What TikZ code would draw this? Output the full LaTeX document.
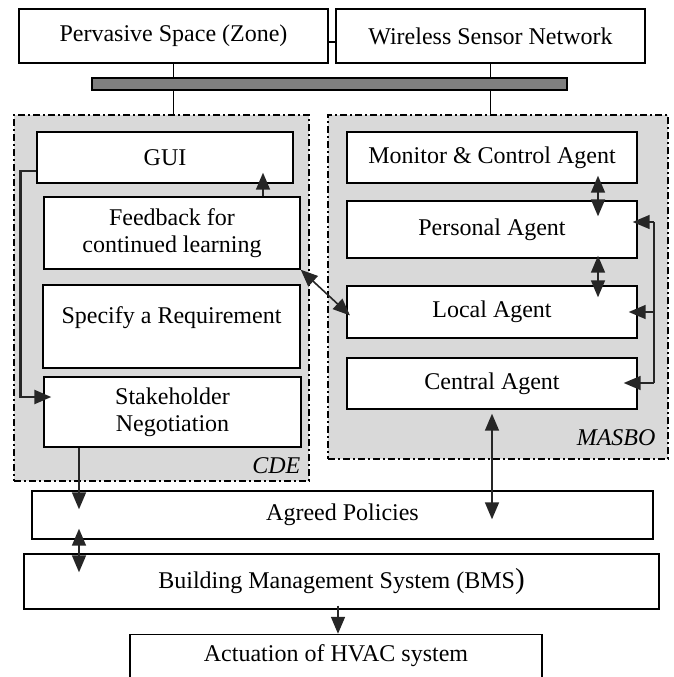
\documentclass[tikz,border=0pt]{standalone}
\usepackage{fontspec}
\setmainfont{Liberation Serif}
\usetikzlibrary{positioning,arrows.meta}
\definecolor{zonegray}{HTML}{D9D9D9}
\definecolor{busgray}{HTML}{7F7F7F}
\definecolor{tipgray}{HTML}{262626}

\begin{document}
\begin{tikzpicture}
            [
            x=1pt,y=-1pt,
            font=\fontsize{24}{27}\selectfont,
            box/.style={draw,fill=white,line width=1.4pt,inner sep=0pt,align=center},
            zone/.style={draw,fill=zonegray,line width=1.2pt,dash pattern=on 7pt off 3pt on 2pt off 3pt},
            link/.style={line width=1.4pt},
            tip/.tip={Triangle[length=17pt 0 0,width=14pt 0 0]},
            flow/.style={line width=1.6pt,draw=tipgray,-tip},
            both/.style={line width=1.6pt,draw=tipgray,tip-tip},
            tag/.style={font=\fontsize{24}{27}\selectfont\itshape,inner sep=2pt,anchor=south east}
            ]
        \useasboundingbox (0,0) rectangle (673,677);
        % shaded groups
        \node[zone,minimum width=295pt,minimum height=366pt] (cde) at (161.5,298) {};
        \node[zone,minimum width=340pt,minimum height=344pt] (masbo) at (498,287) {};
        \node[tag] (cdetag) at ([xshift=-7pt,yshift=6pt]cde.south east) {CDE};
        \node[tag] (masbotag) at ([xshift=-11pt,yshift=12pt]masbo.south east) {MASBO};
        % top row and bus
        \node[box,minimum width=309pt,minimum height=54pt] (zone) at (173.5,36) {Pervasive Space (Zone)};
        \node[box,minimum width=309pt,minimum height=54pt] (wsn) at (490.5,36) {Wireless Sensor Network};
        \node[draw,fill=busgray,line width=1.4pt,minimum width=475pt,minimum height=12pt,inner sep=0pt] (bus) at (329.5,84) {};
        % CDE
        \node[box,minimum width=256pt,minimum height=51pt] (gui) at (165,157.5) {GUI};
        \node[box,minimum width=256pt,minimum height=72pt] (feedback) at (172,233) {Feedback for\\continued learning};
        \node[box,minimum width=257pt,minimum height=83pt] (spec) at (171.5,326.5) {Specify a Requirement\\[-4pt]\mbox{}};
        \node[box,minimum width=257pt,minimum height=70pt] (stake) at (172.5,412) {Stakeholder\\Negotiation};
        % MASBO
        \node[box,minimum width=290pt,minimum height=51pt] (monitor) at (492,157.5) {Monitor \& Control Agent};
        \node[box,minimum width=290pt,minimum height=57pt] (personal) at (492,229.5) {Personal Agent};
        \node[box,minimum width=290pt,minimum height=52pt] (local) at (492,312) {Local Agent};
        \node[box,minimum width=290pt,minimum height=51pt] (central) at (492,383.5) {Central Agent};
        % bottom
        \node[box,minimum width=621pt,minimum height=48pt] (policies) at (342.5,515) {Agreed Policies};
        \node[box,minimum width=635pt,minimum height=55pt] (bms) at (341.5,581.5) {Building Management System (BMS{\fontsize{29}{29}\selectfont)}};
        \node[box,minimum width=412pt,minimum height=43pt] (hvac) at (336,656) {Actuation of HVAC system};
        % plain links
        \draw[link] ([yshift=-6pt]zone.east) -- ([yshift=-6pt]wsn.west);
        \draw[link] (zone.south) -- (zone.south |- bus.north);
        \draw[link] (wsn.south) -- (wsn.south |- bus.north);
        \draw[link] (zone.south |- bus.south) -- (zone.south |- cde.north);
        \draw[link] (wsn.south |- bus.south) -- (wsn.south |- masbo.north);
        % CDE arrows
        \draw[flow,line width=2.4pt,shorten >=-8pt] ([yshift=-13.5pt]gui.west) -- ++(-16,0) |- ([yshift=15pt]stake.west);
        \coordinate (fbtop) at ([xshift=91pt]feedback.north);
        \draw[flow,shorten >=-11pt] (fbtop) -- (fbtop |- gui.south);
        \draw[both,shorten >=-5pt] (feedback.south east) -- (local.west);
        % MASBO arrows
        \coordinate (ma) at ([xshift=106pt]monitor.south);
        \draw[both,shorten <=-8pt,shorten >=-16pt] (ma) -- (ma |- personal.north);
        \coordinate (pa) at ([xshift=106pt]personal.south);
        \draw[both,shorten <=-3pt,shorten >=-12pt] (pa) -- (pa |- local.north);
        \coordinate (railtop) at (654,222);
        \coordinate (railbot) at (654,383);
        \draw[link,draw=tipgray,line width=1.6pt] (railtop) -- (railbot);
        \draw[flow,shorten >=-5pt] (railtop) -- (railtop -| personal.east);
        \draw[flow,shorten >=-9pt] (railtop |- local.east) -- (local.east);
        \draw[flow,shorten >=-14pt] (railbot) -- (railbot -| central.east);
        % down to the building
        \draw[both,shorten <=4pt,shorten >=-29pt] (central.south) -- (central.south |- policies.north);
        \coordinate (sk) at ([xshift=-93.5pt]stake.south);
        \draw[flow,shorten >=-19pt] (sk) -- (sk |- policies.north);
        \coordinate (pb) at (sk |- policies.south);
        \draw[both,shorten <=-11pt,shorten >=-19pt] (pb) -- (pb |- bms.north);
        \coordinate (bh) at ([xshift=2pt]hvac.north);
        \draw[flow,shorten <=-4pt] (bh |- bms.south) -- (bh);
        \end{tikzpicture}
\end{document}
